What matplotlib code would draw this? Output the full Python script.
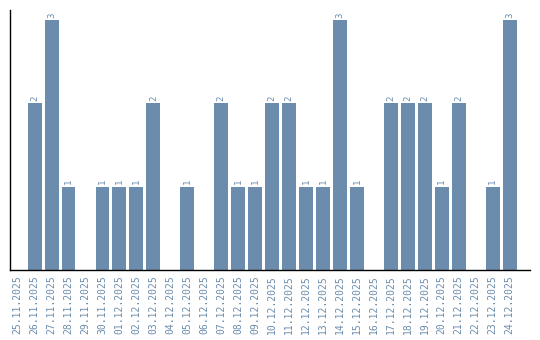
import matplotlib
matplotlib.use("Agg")
import matplotlib.pyplot as plt

dates = ["25.11.2025", "26.11.2025", "27.11.2025", "28.11.2025", "29.11.2025",
         "30.11.2025", "01.12.2025", "02.12.2025", "03.12.2025", "04.12.2025",
         "05.12.2025", "06.12.2025", "07.12.2025", "08.12.2025", "09.12.2025",
         "10.12.2025", "11.12.2025", "12.12.2025", "13.12.2025", "14.12.2025",
         "15.12.2025", "16.12.2025", "17.12.2025", "18.12.2025", "19.12.2025",
         "20.12.2025", "21.12.2025", "22.12.2025", "23.12.2025", "24.12.2025"]
counts = [0, 2, 3, 1, 0, 1, 1, 1, 2, 0, 1, 0, 2, 1, 1, 2, 2, 1, 1, 3,
          1, 0, 2, 2, 2, 1, 2, 0, 1, 3]

color = "#6b8cac"
fig = plt.figure(figsize=(5.4, 3.4), dpi=100)
ax = fig.add_axes([10/540, 70/340, 520/540, 260/340])
x = list(range(len(dates)))
bars = ax.bar(x, counts, width=0.82, color=color)
for xi, v in zip(x, counts):
    if v > 0:
        ax.text(xi, v + 0.03, str(v), rotation=90, ha="center", va="bottom",
                fontsize=6.5, color=color, family="DejaVu Sans Mono")
ax.set_xlim(-0.45, 30.2)
ax.set_ylim(0, 3.12)
ax.set_xticks(x)
ax.set_xticklabels(dates, rotation=90, fontsize=7, color=color, family="DejaVu Sans Mono")
ax.tick_params(axis="x", length=0, pad=4)
ax.set_yticks([])
ax.spines["top"].set_visible(False)
ax.spines["right"].set_visible(False)
ax.spines["left"].set_linewidth(1)
ax.spines["bottom"].set_linewidth(1)
fig.savefig("out.png", dpi=100)
